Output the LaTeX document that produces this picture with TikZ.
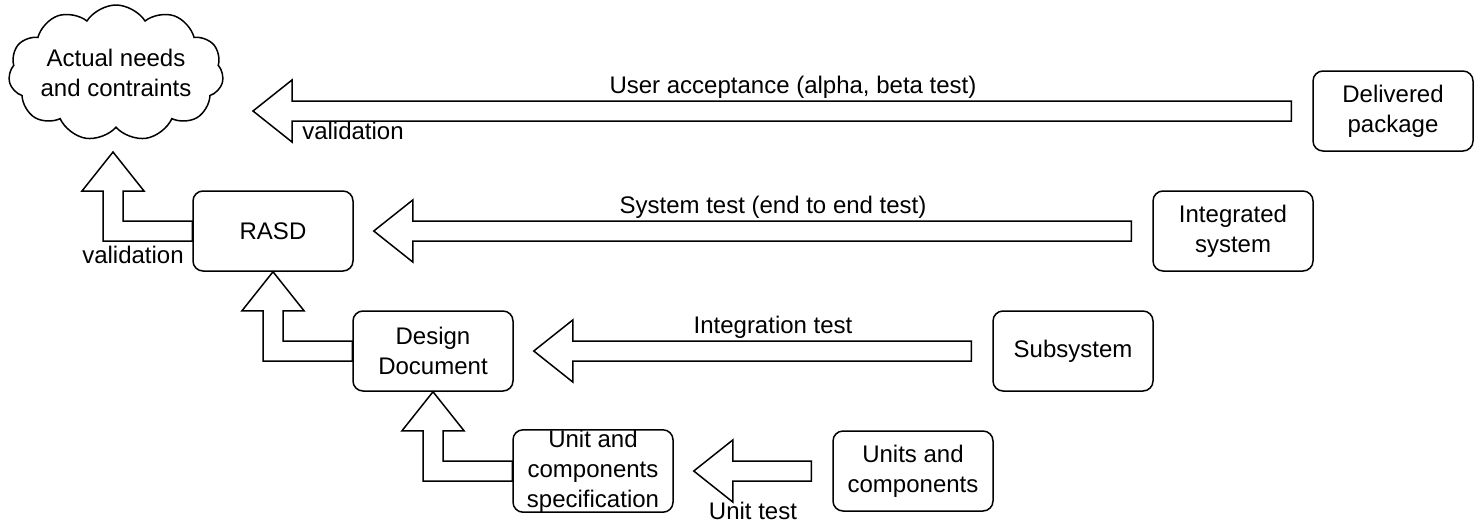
\documentclass[tikz,border=0pt]{standalone}
\usepackage{fontspec}
\setmainfont{Liberation Sans}
\usetikzlibrary{calc,shapes.symbols}

\newcommand{\hflex}[2]{\draw[flex] let \p1=#1, \p2=#2 in (\x1,\y1+5pt) -- (\x2+19.5pt,\y1+5pt) -- (\x2+19.5pt,\y1+15.5pt) -- (\x2,\y1) -- (\x2+19.5pt,\y1-15.5pt) -- (\x2+19.5pt,\y1-5pt) -- (\x1,\y1-5pt) -- cycle;}
\newcommand{\lflex}[2]{\draw[flex] let \p1=#1, \p2=#2 in (\x1,\y1+5pt) -- (\x2+5pt,\y1+5pt) -- (\x2+5pt,\y2-19.5pt) -- (\x2+15.5pt,\y2-19.5pt) -- (\x2,\y2) -- (\x2-15.5pt,\y2-19.5pt) -- (\x2-5pt,\y2-19.5pt) -- (\x2-5pt,\y1-5pt) -- (\x1,\y1-5pt) -- cycle;}

\begin{document}
\begin{tikzpicture}[x=0.5pt,y=-0.5pt,line join=miter,
  every node/.style={font=\fontsize{12}{15}\selectfont,align=center,inner sep=0pt},
  docbox/.style={draw,line width=0.75pt,rounded corners=5pt,minimum width=80pt,minimum height=40pt},
  flex/.style={draw,line width=0.75pt,fill=white}]
  \useasboundingbox (0,0) rectangle (1477,525);
  \node[cloud,draw,line width=0.75pt,cloud puffs=11,cloud puff arc=115,cloud ignores aspect,minimum width=106pt,minimum height=68pt] (needs) at (116,73) {Actual needs\\and contraints};
  \node[docbox] (rasd) at (273,231) {RASD}; \node[docbox] (design) at (433,351) {Design\\Document}; \node[docbox] (spec) at (593,471) {Unit and\\components\\specification};
  \node[docbox] (delivered) at (1393,111) {Delivered\\package}; \node[docbox] (integrated) at (1233,231) {Integrated\\system};
  \node[docbox] (subsystem) at (1073,351) {Subsystem}; \node[docbox] (units) at (913,471) {Units and\\components};
  \coordinate (needtip) at (253,111); \coordinate (cloudtip) at (113,152);
  \hflex{($(delivered.west)+(-21,0)$)}{(needtip)} \hflex{($(integrated.west)+(-21,0)$)}{($(rasd.east)+(20,0)$)}
  \hflex{($(subsystem.west)+(-21,0)$)}{($(design.east)+(20,0)$)} \hflex{($(units.west)+(-21,0)$)}{($(spec.east)+(20,0)$)}
  \lflex{(rasd.west)}{(cloudtip)} \lflex{(design.west)}{(rasd.south)} \lflex{(spec.west)}{(design.south)}
  \node (ualbl) at (793,87) {User acceptance (alpha, beta test)}; \node (val1) at (353,131) {validation};
  \node (stlbl) at (773,207) {System test (end to end test)}; \node (itlbl) at (773,327) {Integration test};
  \node (utlbl) at (753,511) {Unit test}; \node (val2) at (133,255) {validation};
\end{tikzpicture}
\end{document}
